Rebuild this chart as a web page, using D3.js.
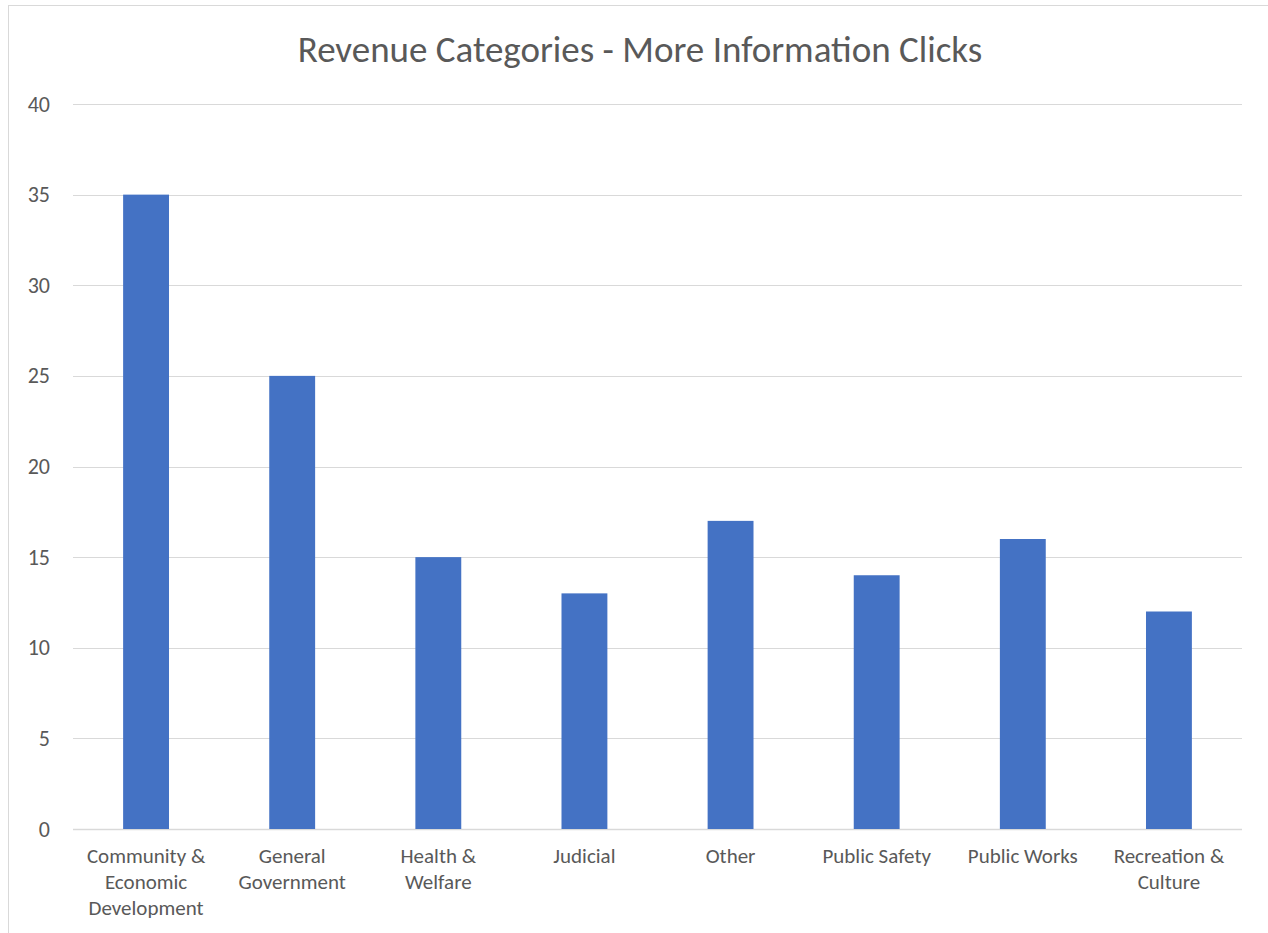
<!DOCTYPE html>
<html>
<head>
<meta charset="utf-8">
<script src="https://cdn.jsdelivr.net/npm/d3@7"></script>
<style>
  body { margin: 0; background: #fff; }
  svg { display: block; }
  .tick text { fill: #595959; }
</style>
</head>
<body>
<svg id="chart" width="1268" height="933"></svg>
<script>
// chart data
var categories = [
  ["Community &", "Economic", "Development"],
  ["General", "Government"],
  ["Health &", "Welfare"],
  ["Judicial"],
  ["Other"],
  ["Public Safety"],
  ["Public Works"],
  ["Recreation &", "Culture"]
];
var clicks = [35, 25, 15, 13, 17, 14, 16, 12];
var yTicks = [0, 5, 10, 15, 20, 25, 30, 35, 40];
var chartTitle = "Revenue Categories - More Information Clicks";

var fontFam = "Carlito, 'Open Sans', 'Noto Sans', sans-serif";
var svg = d3.select("#chart");

// outer frame
svg.append("rect")
  .attr("x", 8.5).attr("y", 5.5)
  .attr("width", 1280).attr("height", 960)
  .attr("fill", "#fff")
  .attr("stroke", "#d9d9d9");

var plotLeft = 73, plotRight = 1242, plotTop = 104, plotBottom = 829;

var x = d3.scaleBand()
  .domain(d3.range(categories.length))
  .range([plotLeft, plotRight])
  .paddingInner(0.686)
  .paddingOuter(0.343);

var y = d3.scaleLinear().domain([0, 40]).range([plotBottom, plotTop]);

// gridlines
svg.append("g")
  .selectAll("line")
  .data(yTicks)
  .enter().append("line")
  .attr("x1", plotLeft).attr("x2", plotRight)
  .attr("y1", function(d) { return Math.round(y(d)) + 0.5; })
  .attr("y2", function(d) { return Math.round(y(d)) + 0.5; })
  .attr("stroke", "#d9d9d9")
  .attr("stroke-width", function(d) { return d === 0 ? 1.5 : 1; });

// y axis labels
var yAxis = svg.append("g")
  .attr("transform", "translate(" + plotLeft + ",0)")
  .call(d3.axisLeft(y).tickValues(yTicks).tickSize(0).tickPadding(23));
yAxis.select(".domain").remove();
yAxis.selectAll("text")
  .attr("font-family", fontFam)
  .attr("font-size", 22)
  .attr("text-anchor", "end");

// bars
svg.append("g")
  .selectAll("rect")
  .data(clicks)
  .enter().append("rect")
  .attr("x", function(d, i) { return x(i); })
  .attr("y", function(d) { return y(d); })
  .attr("width", x.bandwidth())
  .attr("height", function(d) { return y(0) - y(d); })
  .attr("fill", "#4472c4");

// category labels
var xl = svg.append("g")
  .selectAll("text")
  .data(categories)
  .enter().append("text")
  .attr("x", function(d, i) { return x(i) + x.bandwidth() / 2; })
  .attr("y", 863)
  .attr("text-anchor", "middle")
  .attr("font-family", fontFam)
  .attr("font-size", 21)
  .attr("fill", "#595959");
xl.each(function(lines) {
  var t = d3.select(this);
  lines.forEach(function(s, k) {
    t.append("tspan")
      .attr("x", t.attr("x"))
      .attr("dy", k === 0 ? 0 : 26)
      .text(s);
  });
});

// title
svg.append("text")
  .attr("x", 640)
  .attr("y", 62)
  .attr("text-anchor", "middle")
  .attr("font-family", fontFam)
  .attr("font-size", 37)
  .attr("fill", "#595959")
  .text(chartTitle);
</script>
</body>
</html>
